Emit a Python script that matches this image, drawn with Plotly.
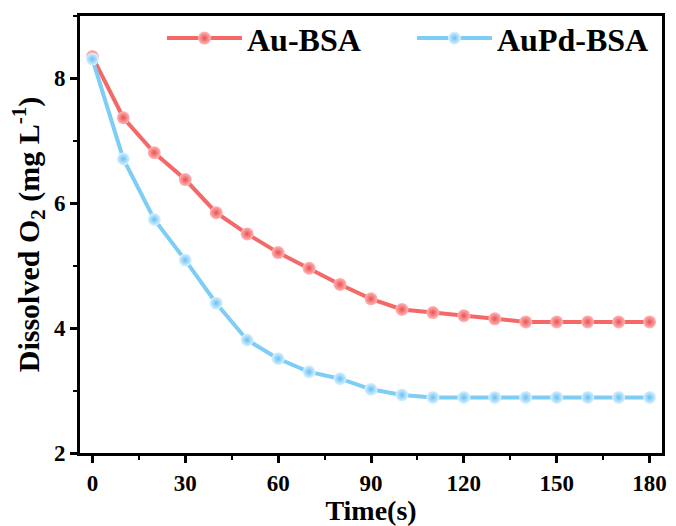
import plotly.graph_objects as go

time_s = [0, 10, 20, 30, 40, 50, 60, 70, 80, 90, 100, 110, 120, 130, 140, 150, 160, 170, 180]
au_bsa = [8.35, 7.37, 6.81, 6.38, 5.85, 5.51, 5.21, 4.96, 4.70, 4.47, 4.30, 4.25, 4.20, 4.15, 4.10, 4.10, 4.10, 4.10, 4.10]
aupd_bsa = [8.31, 6.71, 5.74, 5.09, 4.40, 3.81, 3.51, 3.30, 3.19, 3.02, 2.93, 2.89, 2.89, 2.89, 2.89, 2.89, 2.89, 2.89, 2.89]

x_ticks = [0, 30, 60, 90, 120, 150, 180]
y_ticks = [2, 4, 6, 8]

font_family = "Liberation Serif, Times New Roman, serif"

fig = go.Figure()
fig.add_trace(go.Scatter(
    x=time_s, y=au_bsa, name="Au-BSA", mode="lines+markers",
    line=dict(color="#f56868", width=4),
    marker=dict(size=13, color="#ffb8b8", gradient=dict(type="radial", color="#ec5050"),
                line=dict(width=0)),
))
fig.add_trace(go.Scatter(
    x=time_s, y=aupd_bsa, name="AuPd-BSA", mode="lines+markers",
    line=dict(color="#7ecdf7", width=4),
    marker=dict(size=13, color="#dcf3ff", gradient=dict(type="radial", color="#68c0f3"),
                line=dict(width=0)),
))

axis_common = dict(
    showline=True, linewidth=3, linecolor="black", mirror=True,
    ticks="outside", ticklen=7, tickwidth=3, tickcolor="black",
    showgrid=False, zeroline=False,
    tickfont=dict(family=font_family, size=23, color="black", weight="bold"),
)

fig.update_xaxes(
    range=[-4, 184], tickvals=x_ticks,
    minor=dict(ticks="outside", ticklen=4, tickwidth=2, tickcolor="black", dtick=15, tick0=0),
    title=dict(text="<b>Time(s)</b>", font=dict(family=font_family, size=28, color="black"), standoff=2),
    **axis_common,
)
fig.update_yaxes(
    range=[2, 9], tickvals=y_ticks,
    minor=dict(ticks="outside", ticklen=4, tickwidth=2, tickcolor="black", dtick=1, tick0=0),
    title=dict(text="<b>Dissolved O<sub>2</sub> (mg L<sup>-1</sup>)</b>",
               font=dict(family=font_family, size=30, color="black"), standoff=6),
    **axis_common,
)

fig.update_layout(
    width=676, height=526,
    margin=dict(l=80, r=9, t=16, b=69),
    plot_bgcolor="white", paper_bgcolor="white",
    legend=dict(orientation="h", x=1.0, y=1.012, xanchor="right", yanchor="top",
                font=dict(family=font_family, size=32, color="black", weight="bold"),
                bgcolor="rgba(0,0,0,0)", itemwidth=75, entrywidth=160, entrywidthmode="pixels"),
    showlegend=True,
)

fig.write_html("out.html", config={"displayModeBar": False},
               post_script="document.body.style.margin='0px';")
